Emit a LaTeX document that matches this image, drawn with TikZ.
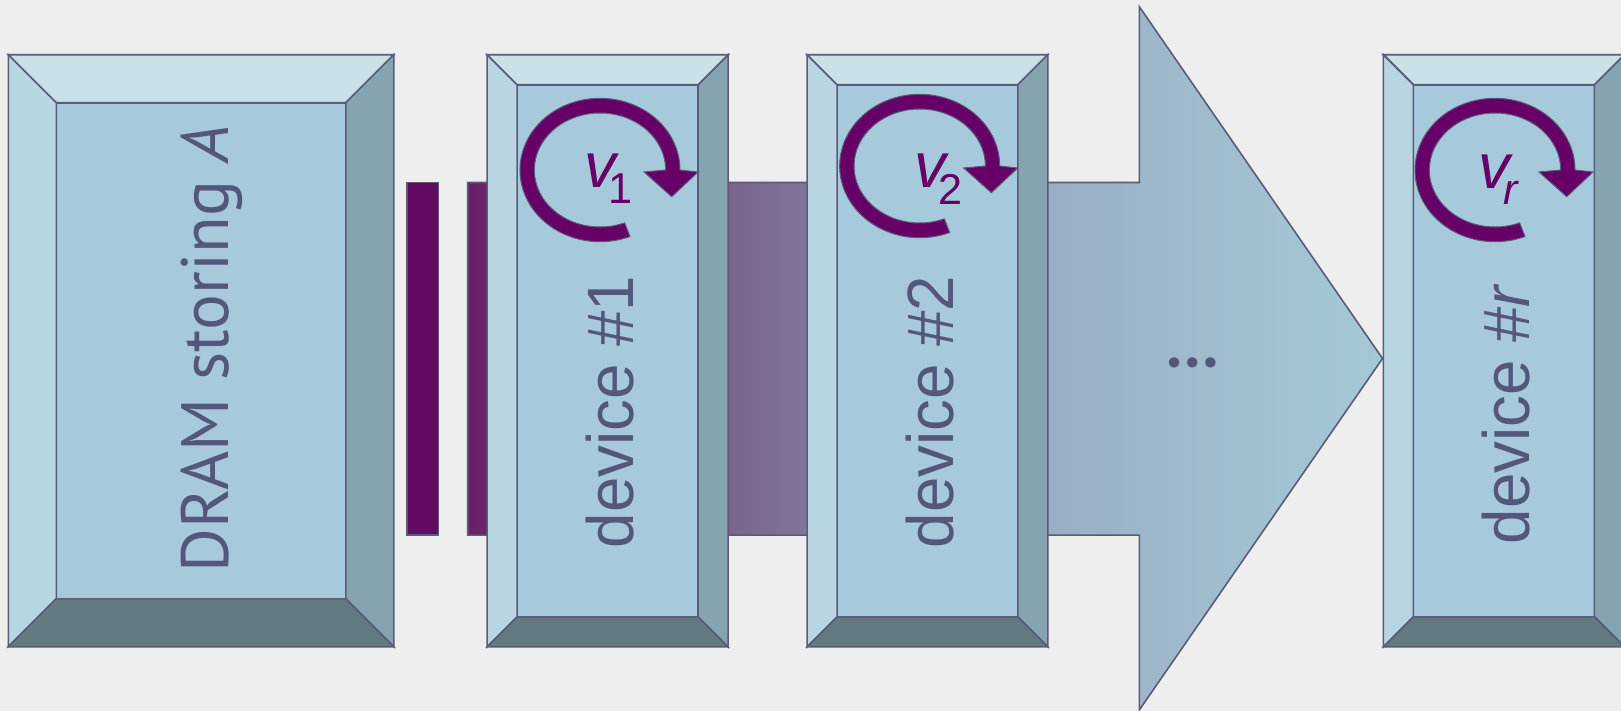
\documentclass[tikz,border=0pt]{standalone}
\usepackage{fontspec}
\setmainfont{Liberation Sans}
\newfontfamily\dramfont{PT Sans}
\newfontfamily\dotfont{Lato}
\usetikzlibrary{calc}

\definecolor{bgc}{HTML}{EEEEEE}
\definecolor{topc}{HTML}{C9E0E9}
\definecolor{leftc}{HTML}{B8D6E1}
\definecolor{facec}{HTML}{A6CADB}
\definecolor{rightc}{HTML}{86A4B0}
\definecolor{botc}{HTML}{647A82}
\definecolor{edgec}{HTML}{5A5B7B}
\definecolor{inkc}{HTML}{55577A}
\definecolor{plum}{HTML}{660066}
\definecolor{stripec}{HTML}{650A62}
\definecolor{flowA}{HTML}{682068}
\definecolor{flowB}{HTML}{7A6490}
\definecolor{flowC}{HTML}{9AAEC4}
\definecolor{flowD}{HTML}{A2C4D2}
\definecolor{flowE}{HTML}{A4C8D6}

% horizontal colour run of the striped arrow (path box maps to 25bp..75bp)
\pgfdeclarehorizontalshading{flowshade}{100bp}{%
  color(0bp)=(flowA); color(25bp)=(flowA); color(39.3bp)=(flowB);
  color(56.8bp)=(flowC); color(70.8bp)=(flowD); color(75bp)=(flowE);
  color(100bp)=(flowE)}

\tikzset{
  edge/.style={draw=edgec, line width=0.8pt, line join=miter},
  devlabel/.style={rotate=90, anchor=base, inner sep=0pt, text=inkc,
    font=\fontsize{32.8}{36}\selectfont},
  ringlabel/.style={anchor=base west, inner sep=0pt, text=plum,
    font=\fontsize{31.8}{34}\selectfont},
  ring/.style={fill=plum, draw=edgec, line width=0.5pt, line join=miter},
}

% bevelled box: x0 y0 x1 y1 bevel
\newcommand\bevelbox[5]{%
  \path[edge, fill=facec] ({#1+#5},{#2+#5}) rectangle ({#3-#5},{#4-#5});
  \path[edge, fill=topc] (#1,#2) -- (#3,#2) -- ({#3-#5},{#2+#5}) -- ({#1+#5},{#2+#5}) -- cycle;
  \path[edge, fill=leftc] (#1,#2) -- ({#1+#5},{#2+#5}) -- ({#1+#5},{#4-#5}) -- (#1,#4) -- cycle;
  \path[edge, fill=rightc] (#3,#2) -- (#3,#4) -- ({#3-#5},{#4-#5}) -- ({#3-#5},{#2+#5}) -- cycle;
  \path[edge, fill=botc] (#1,#4) -- ({#1+#5},{#4-#5}) -- ({#3-#5},{#4-#5}) -- (#3,#4) -- cycle;
}

% clockwise circular arrow around centre (#1,#2)
\newcommand\turnarrow[2]{%
  \path[ring] (#1,#2) ++(68:80 and 71.7)
    arc[start angle=68, end angle=360, x radius=80, y radius=71.7]
    -- ({#1+98},{#2+2}) -- ({#1+71.7},{#2+26.7}) -- ({#1+44},{#2+2})
    -- ({#1+65.7},#2)
    arc[start angle=360, end angle=68, x radius=65.7, y radius=57] -- cycle;
}

\begin{document}
\begin{tikzpicture}[x=0.5pt, y=-0.5pt]
  % canvas
  \fill[bgc] (0,0) rectangle (1621,711);
  \useasboundingbox (0,0) rectangle (1621,711);

  % striped block arrow running from the DRAM to the devices
  \path[edge, fill=stripec] (406.7,182.5) rectangle (438.3,535.1);
  \path[edge, shading=flowshade]
    (467.7,182.5) -- (1139.4,182.5) -- (1139.4,6.8) -- (1382.5,358.5)
    -- (1139.4,709.8) -- (1139.4,535.1) -- (467.7,535.1) -- cycle;
  \node[anchor=base, inner sep=0pt, text=inkc,
        font=\dotfont\bfseries\fontsize{34}{36}\selectfont] (dots) at (1193,367.5) {\symbol{"2026}};

  % memory and devices
  \bevelbox{8.3}{54.8}{393.8}{646.8}{48}
  \bevelbox{487.1}{54.8}{728.1}{646.8}{30}
  \bevelbox{807.1}{54.8}{1047.8}{646.8}{30}
  \bevelbox{1383.4}{54.8}{1624.4}{646.8}{30}

  \node[rotate=90, anchor=base, inner sep=0pt, text=inkc,
        font=\dramfont\fontsize{33.5}{36}\selectfont] (dram) at (228.3,349)
        {DRAM storing \textit{A}};

  \node[devlabel] (dev1) at (633.5,412) {\scalebox{0.97}[1]{device \#1}};
  \node[devlabel] (dev2) at (953.6,412) {\scalebox{0.97}[1]{device \#2}};
  \node[devlabel] (devr) at (1529.5,414) {\scalebox{0.97}[1]{device \#\textit{r}}};

  % local iterations on each device
  \turnarrow{600}{170}
  \turnarrow{919.7}{166}
  \turnarrow{1495}{170}

  \node[ringlabel] (v1) at (584,188)
    {\textit{v}\kern-5.5pt\raisebox{-7.6pt}{\fontsize{21.6}{24}\selectfont 1}};
  \node[ringlabel] (v2) at (913.6,188)
    {\textit{v}\kern-5pt\raisebox{-8.5pt}{\fontsize{21.6}{24}\selectfont 2}};
  \node[ringlabel] (vr) at (1478,188.3)
    {\textit{v}\kern-5pt\raisebox{-8.3pt}{\fontsize{21.6}{24}\selectfont\itshape r}};
\end{tikzpicture}
\end{document}
